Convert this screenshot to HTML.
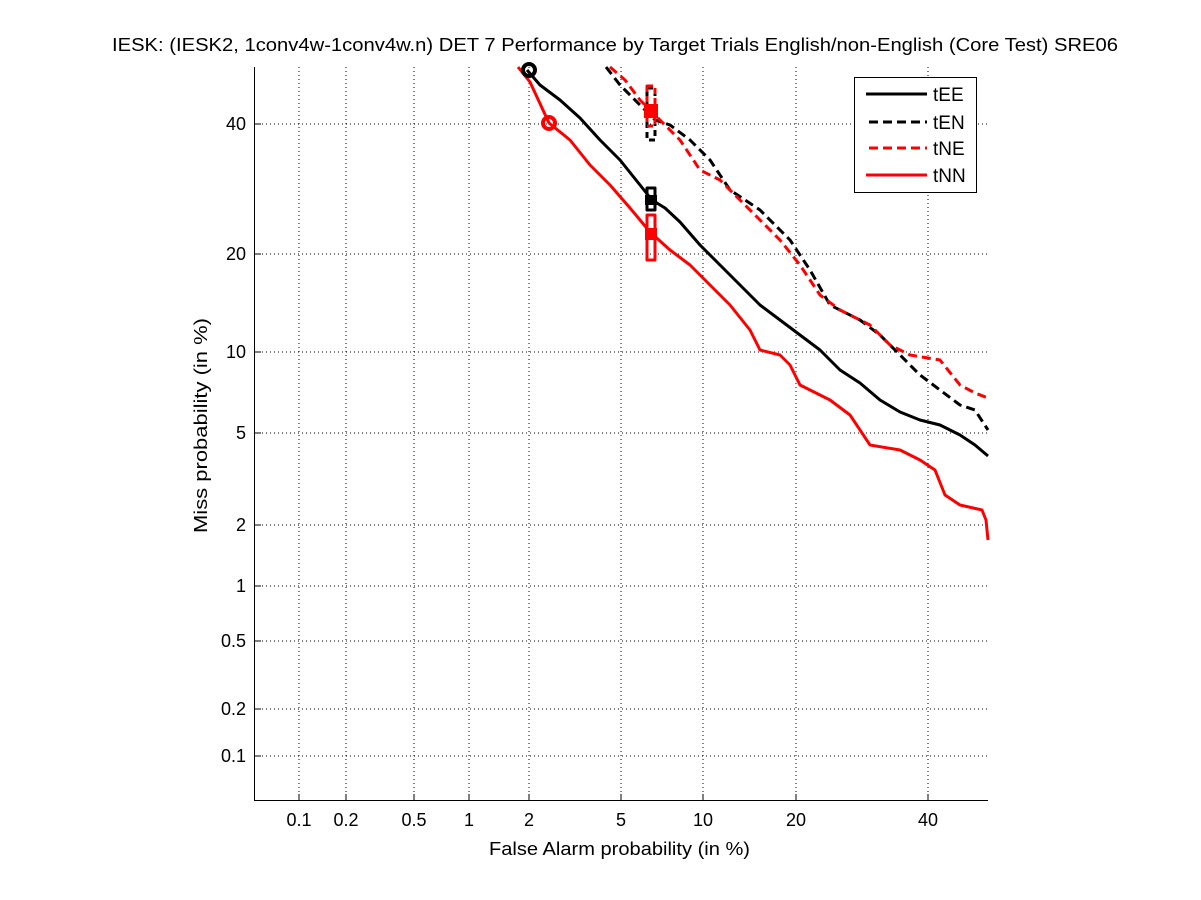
<!DOCTYPE html>
<html><head><meta charset="utf-8"><style>body{margin:0;background:#fff}svg{display:block;font-family:"Liberation Sans",sans-serif}</style></head><body>
<svg width="1201" height="900" viewBox="0 0 1201 900">
<rect width="1201" height="900" fill="#fff"/>
<g stroke="#000" stroke-width="1" stroke-dasharray="1,3" fill="none">
<line x1="299" y1="67" x2="299" y2="801"/><line x1="346" y1="67" x2="346" y2="801"/><line x1="414" y1="67" x2="414" y2="801"/><line x1="469" y1="67" x2="469" y2="801"/><line x1="529" y1="67" x2="529" y2="801"/><line x1="621" y1="67" x2="621" y2="801"/><line x1="703" y1="67" x2="703" y2="801"/><line x1="796" y1="67" x2="796" y2="801"/><line x1="928" y1="67" x2="928" y2="801"/>
<line x1="254" y1="124" x2="988" y2="124"/><line x1="254" y1="254" x2="988" y2="254"/><line x1="254" y1="352" x2="988" y2="352"/><line x1="254" y1="433" x2="988" y2="433"/><line x1="254" y1="525" x2="988" y2="525"/><line x1="254" y1="586" x2="988" y2="586"/><line x1="254" y1="641" x2="988" y2="641"/><line x1="254" y1="709" x2="988" y2="709"/><line x1="254" y1="756" x2="988" y2="756"/>
</g>
<g stroke="#000" stroke-width="1">
<line x1="254.5" y1="67" x2="254.5" y2="801"/><line x1="254" y1="800.5" x2="988" y2="800.5"/>
<path d="M299 801v-7M346 801v-7M414 801v-7M469 801v-7M529 801v-7M621 801v-7M703 801v-7M796 801v-7M928 801v-7M254 124h7M254 254h7M254 352h7M254 433h7M254 525h7M254 586h7M254 641h7M254 709h7M254 756h7"/>
</g>
<g font-size="18" fill="#000" text-anchor="middle">
<text x="299" y="826">0.1</text><text x="346" y="826">0.2</text><text x="414" y="826">0.5</text><text x="469" y="826">1</text><text x="529" y="826">2</text><text x="621" y="826">5</text><text x="703" y="826">10</text><text x="796" y="826">20</text><text x="928" y="826">40</text>
</g>
<g font-size="18" fill="#000" text-anchor="end">
<text x="246" y="130">40</text><text x="246" y="260">20</text><text x="246" y="358">10</text><text x="246" y="439">5</text><text x="246" y="531">2</text><text x="246" y="592">1</text><text x="246" y="647">0.5</text><text x="246" y="715">0.2</text><text x="246" y="762">0.1</text>
</g>
<text x="489" y="855" font-size="18" textLength="261" lengthAdjust="spacingAndGlyphs">False Alarm probability (in %)</text>
<text transform="translate(207,533) rotate(-90)" font-size="18" textLength="215" lengthAdjust="spacingAndGlyphs">Miss probability (in %)</text>
<text x="112" y="51" font-size="18" textLength="1006" lengthAdjust="spacingAndGlyphs">IESK: (IESK2, 1conv4w-1conv4w.n) DET 7 Performance by Target Trials English/non-English (Core Test) SRE06</text>
<g fill="none" stroke-width="3" stroke-linejoin="round">
<polyline stroke="#000" points="527,70 540,85 560,100 580,118 600,140 620,160 640,185 652,200 665,208 680,222 700,245 720,265 740,285 760,305 780,320 800,335 820,350 840,370 860,383 880,400 900,412 920,420 940,425 960,435 975,445 988,456"/>
<polyline stroke="#f00" points="518,67 530,82 549,123 570,140 590,165 610,185 630,208 650,232 670,250 690,265 710,285 730,305 750,330 760,350 780,355 790,365 800,385 830,400 850,415 870,445 900,450 920,460 935,470 945,495 960,505 982,510 986,520 988,540"/>
<polyline stroke="#000" stroke-dasharray="9,5" points="606,67 620,85 640,105 655,120 670,125 690,140 710,160 730,190 760,210 790,240 810,270 830,305 860,320 880,335 900,355 920,375 940,390 960,405 975,410 988,430"/>
<polyline stroke="#f00" stroke-dasharray="9,5" points="610,67 625,80 640,100 660,120 680,140 700,170 720,180 740,200 760,220 780,240 800,265 820,295 840,310 870,325 890,345 910,355 940,360 960,385 975,393 988,398"/>
<circle cx="529" cy="70" r="6" stroke="#000" stroke-width="4"/>
<circle cx="549" cy="123" r="6" stroke="#f00" stroke-width="4"/>
<rect x="647" y="188" width="8" height="22" stroke="#000"/>
<rect x="647" y="215" width="8" height="45" stroke="#f00"/>
<rect x="647" y="88" width="8" height="52" stroke="#000" stroke-dasharray="6,4"/>
<rect x="647" y="86" width="8" height="40" stroke="#f00" stroke-dasharray="6,4"/>
</g>
<g fill="#000"><rect x="645" y="195" width="12" height="10"/></g>
<g fill="#f00"><rect x="645" y="228" width="12" height="12"/><rect x="644" y="104" width="14" height="14"/></g>
<rect x="854.5" y="77.5" width="122" height="115" fill="#fff" stroke="#000"/>
<g stroke-width="3">
<line x1="866" y1="94" x2="927" y2="94" stroke="#000"/>
<line x1="869" y1="122" x2="927" y2="122" stroke="#000" stroke-dasharray="9,5"/>
<line x1="869" y1="148" x2="927" y2="148" stroke="#f00" stroke-dasharray="9,5"/>
<line x1="866" y1="175" x2="927" y2="175" stroke="#f00"/>
</g>
<g font-size="19"><text x="933" y="101">tEE</text><text x="933" y="129">tEN</text><text x="933" y="155">tNE</text><text x="933" y="182">tNN</text></g>
</svg>
</body></html>
